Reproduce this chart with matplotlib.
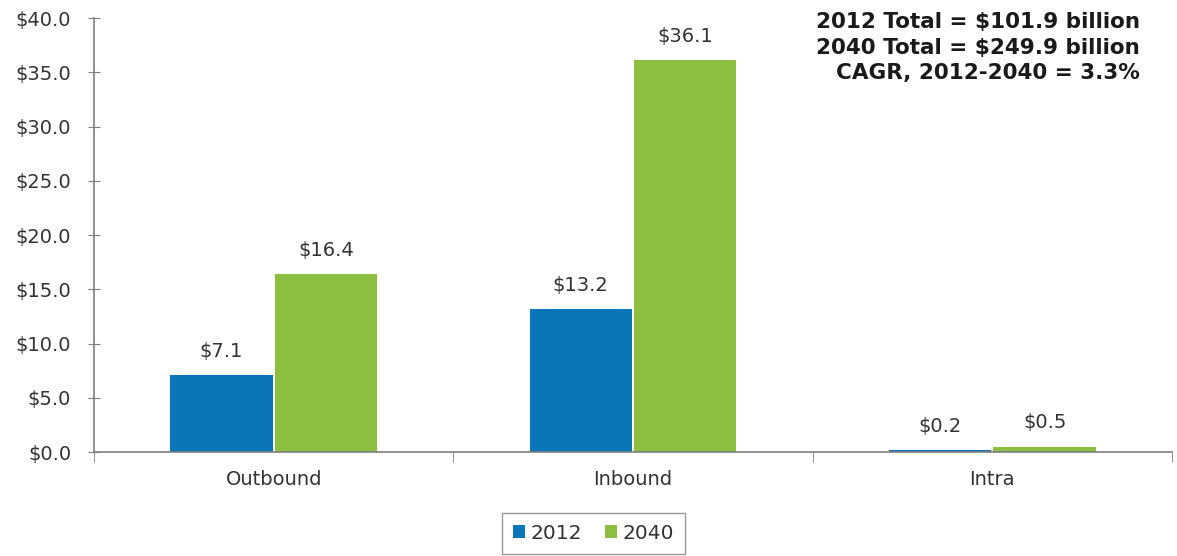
import numpy as np
import matplotlib.pyplot as plt

# Wartości (mld USD)
kategorie = ['Outbound', 'Inbound', 'Intra']
lata = ['2012', '2040']
wartosci_2012 = [7.1, 13.2, 0.2]
wartosci_2040 = [16.4, 36.1, 0.5]
podsumowanie = ['2012 Total = $101.9 billion',
                '2040 Total = $249.9 billion',
                'CAGR, 2012-2040 = 3.3%']

kolory = ['#0a75b7', '#8cbf3f']
szary = '#7f7f7f'
tekst = '#333333'
rozmiar = 14

fig = plt.figure(figsize=(11.77, 5.56), dpi=100)
ax = fig.add_axes([0.0799, 0.187, 0.9158, 0.7806])

x = np.arange(len(kategorie))
w = 0.285
for i, (vals, kolor, rok) in enumerate(zip([wartosci_2012, wartosci_2040], kolory, lata)):
    pos = x - w / 2 - 0.003 + i * (w + 0.006)
    bars = ax.bar(pos, vals, width=w, color=kolor, label=rok)
    for b, v in zip(bars, vals):
        ax.text(b.get_x() + b.get_width() / 2, v + 1.3, '${:.1f}'.format(v),
                ha='center', va='bottom', fontsize=rozmiar, color=tekst)

ax.set_xlim(-0.5, 2.5)
ax.set_ylim(0, 40)
ax.set_yticks(np.arange(0, 40.1, 5))
ax.set_yticklabels(['${:.1f}'.format(t) for t in np.arange(0, 40.1, 5)],
                   fontsize=rozmiar, color=tekst)
ax.set_xticks(x)
ax.set_xticklabels(kategorie, fontsize=rozmiar, color=tekst)
ax.tick_params(axis='x', which='major', length=0, pad=13)
ax.set_xticks([-0.5, 0.5, 1.5, 2.5], minor=True)
ax.tick_params(axis='x', which='minor', length=7, color=szary, direction='out')
ax.tick_params(axis='y', length=9, color=szary, direction='inout', pad=12)

for s in ['top', 'right']:
    ax.spines[s].set_visible(False)
for s in ['left', 'bottom']:
    ax.spines[s].set_color(szary)
    ax.spines[s].set_linewidth(1.2)

fig.text(0.9686, 0.978, '\n'.join(podsumowanie),
         ha='right', va='top', fontsize=15.5, fontweight='bold',
         color='#1a1a1a', multialignment='right', linespacing=1.33)

leg = fig.legend(loc='lower center', bbox_to_anchor=(0.5042, 0.0), ncol=2,
                 fontsize=rozmiar + 0.5, frameon=True, fancybox=False,
                 handlelength=0.6, handleheight=0.6, handletextpad=0.3,
                 columnspacing=1.1, borderpad=0.55, borderaxespad=0.1)
leg.get_frame().set_edgecolor(szary)
for t in leg.get_texts():
    t.set_color(tekst)

fig.savefig('out.png', dpi=100)
